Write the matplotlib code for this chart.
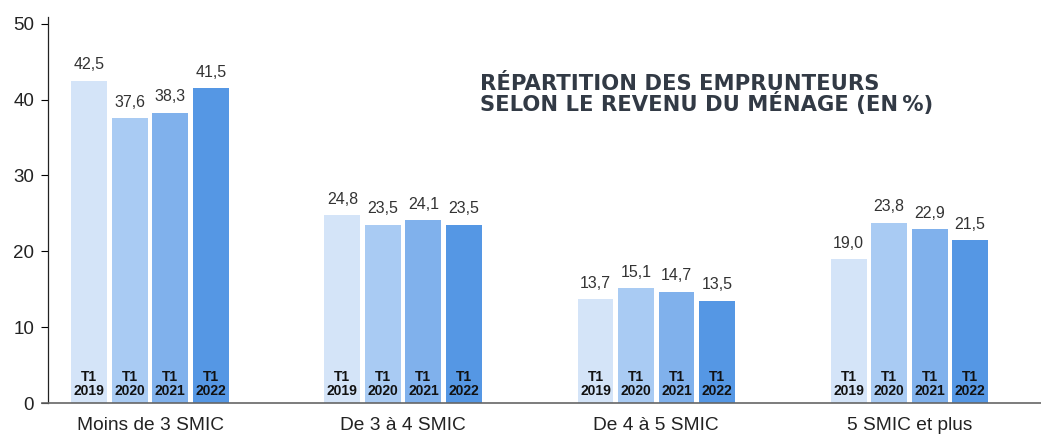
import matplotlib
matplotlib.use("Agg")
import matplotlib.pyplot as plt
import numpy as np

categories = ["Moins de 3 SMIC", "De 3 à 4 SMIC", "De 4 à 5 SMIC", "5 SMIC et plus"]
series_labels = ["T1\n2019", "T1\n2020", "T1\n2021", "T1\n2022"]
values_2019 = [42.5, 24.8, 13.7, 19.0]
values_2020 = [37.6, 23.5, 15.1, 23.8]
values_2021 = [38.3, 24.1, 14.7, 22.9]
values_2022 = [41.5, 23.5, 13.5, 21.5]
series = [values_2019, values_2020, values_2021, values_2022]
colors = ["#d4e4f8", "#a9cbf3", "#80b1ec", "#5597e4"]
title_lines = ["RÉPARTITION DES EMPRUNTEURS", "SELON LE REVENU DU MÉNAGE (EN\u2009%)"]

plt.rcParams['font.family'] = ['Liberation Sans', 'DejaVu Sans']

fig = plt.figure(figsize=(10.41, 4.38), dpi=100)
ax = fig.add_axes([48/1041, 1-403/438, 1-48/1041, (403-17)/438])

x = np.arange(len(categories))
step = 0.16
width = 0.142
for i, vals in enumerate(series):
    pos = x + (i - 1.5) * step
    ax.bar(pos, vals, width=width, color=colors[i], zorder=2)
    for p, v in zip(pos, vals):
        ax.text(p, v + 1.1, f"{v:.1f}".replace(".", ","), ha="center", va="bottom",
                fontsize=11.5, color="#333333")
        ax.text(p, 2.5, series_labels[i], ha="center", va="center", fontsize=10,
                fontweight="bold", color="#111111", linespacing=1.0)

ax.set_xlim(-0.403, 3.52)
ax.set_ylim(0, 50.9)
ax.set_yticks([0, 10, 20, 30, 40, 50])
ax.set_xticks(x)
ax.set_xticklabels(categories, fontsize=13.8, color="#222222")
ax.tick_params(axis="x", length=0, pad=10)
ax.tick_params(axis="y", labelsize=13.5, labelcolor="#222222", length=5, width=0.8, direction="out", pad=5)
for s in ["top", "right", "bottom"]:
    ax.spines[s].set_visible(False)
ax.spines["left"].set_color("#222222")
ax.spines["left"].set_linewidth(0.9)
ax.plot([-6/993, 1], [0, 0], transform=ax.transAxes, color="#666666", lw=1.2, clip_on=False, zorder=3)

for k, line in enumerate(title_lines):
    fig.text(480/1041, 1-(90 + 21*k)/438, line, ha="left", va="baseline", fontsize=15.2,
             fontweight="bold", color="#323a45", family=["DejaVu Sans"])

fig.savefig("out.png", dpi=100)
